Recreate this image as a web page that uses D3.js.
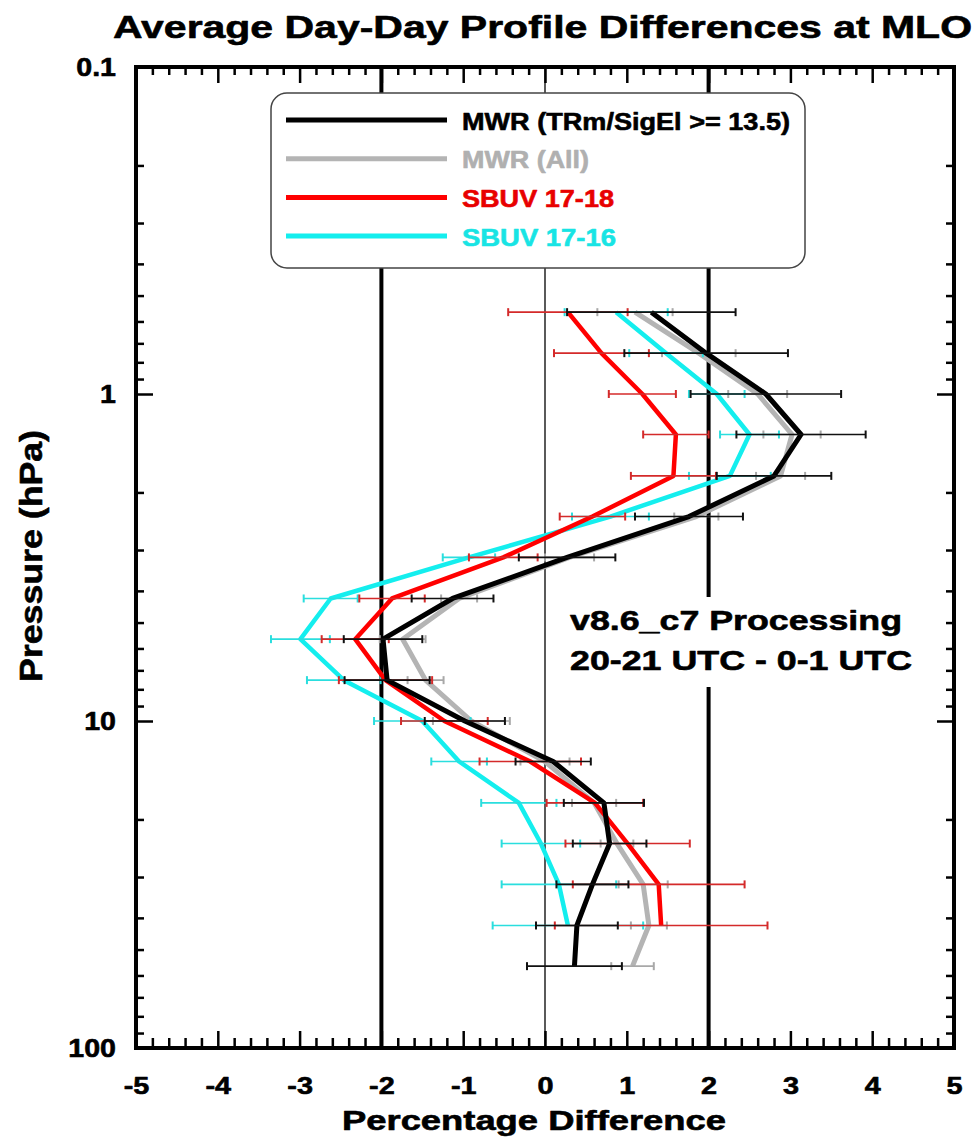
<!DOCTYPE html>
<html>
<head>
<meta charset="utf-8">
<script src="https://cdn.jsdelivr.net/npm/d3@7"></script>
<style>
  body { margin: 0; background: #fff; }
  text { font-family: "Liberation Sans", Arial, sans-serif; font-weight: bold; }
</style>
</head>
<body>
<div id="chart"></div>
<script>
// pressure levels (hPa) of the profile points, top to bottom
const pressure = [0.562, 0.75, 1.0, 1.33, 1.78, 2.37, 3.16, 4.22, 5.62, 7.5, 10, 13.3, 17.8, 23.7, 31.6, 42.2, 56.2];

// MWR (TRm/SigEl >= 13.5)
const mwrSel = [1.30, 1.97, 2.70, 3.13, 2.80, 1.76, 0.27, -1.13, -1.98, -1.93, -0.98, 0.10, 0.72, 0.79, 0.58, 0.39, 0.36];
const mwrSelErr = [1.03, 1.00, 0.92, 0.79, 0.70, 0.66, 0.59, 0.50, 0.48, 0.52, 0.49, 0.46, 0.49, 0.45, 0.44, 0.50, 0.58];
// MWR (All)
const mwrAll = [1.10, 1.88, 2.60, 3.02, 2.88, 1.85, 0.30, -1.05, -1.74, -1.46, -0.90, 0.00, 0.60, 0.88, 1.20, 1.27, 1.07];
const mwrAllErr = [0.46, 0.45, 0.36, 0.35, 0.30, 0.27, 0.30, 0.22, 0.28, 0.22, 0.47, 0.30, 0.27, 0.20, 0.30, 0.22, 0.26];
// SBUV 17-18
const sbuv1718 = [0.28, 0.69, 1.19, 1.60, 1.57, 0.58, -0.51, -1.87, -2.32, -1.95, -1.23, -0.18, 0.61, 1.01, 1.39, 1.42];
const sbuv1718Err = [0.73, 0.58, 0.41, 0.40, 0.52, 0.40, 0.42, 0.40, 0.41, 0.57, 0.53, 0.62, 0.59, 0.76, 1.05, 1.30];
// SBUV 17-16
const sbuv1716 = [0.87, 1.48, 2.10, 2.50, 2.26, 0.80, -0.93, -2.62, -2.99, -2.46, -1.50, -1.05, -0.32, -0.05, 0.17, 0.28];
const sbuv1716Err = [0.63, 0.45, 0.34, 0.36, 0.50, 0.47, 0.32, 0.33, 0.36, 0.45, 0.59, 0.34, 0.46, 0.48, 0.70, 0.92];

const seriesNames = ["MWR (TRm/SigEl >= 13.5)", "MWR (All)", "SBUV 17-18", "SBUV 17-16"];
const xTickLabels = [-5, -4, -3, -2, -1, 0, 1, 2, 3, 4, 5];
const yTickLabels = [0.1, 1, 10, 100];
const refLines = [-2, 0, 2];
const noteLines = ["v8.6_c7 Processing", "20-21 UTC - 0-1 UTC"];

var W = 975, H = 1138;
var pLeft = 136, pRight = 954, pTop = 67, pBottom = 1048;

var svg = d3.select("#chart").append("svg")
  .attr("width", W).attr("height", H);
svg.append("rect").attr("width", W).attr("height", H).attr("fill", "#fff");

var x = d3.scaleLinear().domain([-5, 5]).range([pLeft, pRight]);
var y = d3.scaleLog().domain([0.1, 100]).range([pTop, pBottom]);

// stretch text horizontally, the original lettering is wide
function stretch(sel, f) {
  sel.each(function () {
    var w = this.getComputedTextLength();
    d3.select(this).attr("textLength", w * f).attr("lengthAdjust", "spacingAndGlyphs");
  });
}
// the original lettering is heavier than Liberation bold
function heavy(sel, w) {
  sel.attr("stroke", function () { return d3.select(this).attr("fill") || "#000"; })
    .attr("stroke-width", w).attr("stroke-linejoin", "round");
}

// reference lines at -2, 0, 2
svg.selectAll(".ref").data(refLines).enter().append("line")
  .attr("x1", d => x(d)).attr("x2", d => x(d))
  .attr("y1", pTop).attr("y2", pBottom)
  .attr("stroke", "#000")
  .attr("stroke-width", d => d === 0 ? 1.3 : 4);

// series, drawn bottom to top
var series = [
  { name: seriesNames[1], vals: mwrAll, err: mwrAllErr, color: "#b4b4b4", bar: "#a8a8a8", w: 5 },
  { name: seriesNames[3], vals: sbuv1716, err: sbuv1716Err, color: "#14eeee", bar: "#2adede", w: 4.5 },
  { name: seriesNames[2], vals: sbuv1718, err: sbuv1718Err, color: "#ff0000", bar: "#d42a2a", w: 4.5 },
  { name: seriesNames[0], vals: mwrSel, err: mwrSelErr, color: "#000000", bar: "#111", w: 5 }
];

var line = d3.line().x(d => x(d[0])).y(d => y(d[1]));

series.forEach(function (s) {
  var pts = s.vals.map((v, i) => [v, pressure[i], s.err[i]]);
  var g = svg.append("g");
  g.append("path")
    .attr("d", line(pts))
    .attr("fill", "none")
    .attr("stroke", s.color)
    .attr("stroke-width", s.w)
    .attr("stroke-linejoin", "round");
  var bars = g.selectAll(".eb").data(pts).enter().append("g");
  bars.append("line")
    .attr("x1", d => x(d[0] - d[2])).attr("x2", d => x(d[0] + d[2]))
    .attr("y1", d => y(d[1])).attr("y2", d => y(d[1]))
    .attr("stroke", s.bar).attr("stroke-width", 1.6);
  [-1, 1].forEach(function (k) {
    bars.append("line")
      .attr("x1", d => x(d[0] + k * d[2])).attr("x2", d => x(d[0] + k * d[2]))
      .attr("y1", d => y(d[1]) - 4).attr("y2", d => y(d[1]) + 4)
      .attr("stroke", s.bar).attr("stroke-width", 2);
  });
});

// legend
var legend = svg.append("g");
legend.append("rect")
  .attr("x", 271).attr("y", 93).attr("width", 534).attr("height", 175)
  .attr("rx", 16).attr("ry", 16)
  .attr("fill", "#fff").attr("stroke", "#444").attr("stroke-width", 1.5);
var legendItems = [
  { name: seriesNames[0], color: "#000", text: "#000", len: 328 },
  { name: seriesNames[1], color: "#b4b4b4", text: "#b0b0b0", len: 127 },
  { name: seriesNames[2], color: "#ff0000", text: "#e80000", len: 152 },
  { name: seriesNames[3], color: "#14eeee", text: "#18e4e4", len: 154 }
];
legendItems.forEach(function (d, i) {
  var ly = 120 + i * 38.7;
  legend.append("line")
    .attr("x1", 286).attr("x2", 447).attr("y1", ly).attr("y2", ly)
    .attr("stroke", d.color).attr("stroke-width", 5);
  legend.append("text")
    .attr("class", "lab")
    .attr("x", 462).attr("y", ly + 9.5)
    .attr("font-size", 24)
    .attr("fill", d.text)
    .attr("textLength", d.len).attr("lengthAdjust", "spacingAndGlyphs")
    .text(d.name);
});

// processing note with white background
svg.append("rect")
  .attr("x", 556).attr("y", 597).attr("width", 366).attr("height", 90)
  .attr("fill", "#fff");
svg.selectAll(".note").data(noteLines).enter().append("text")
  .attr("class", "lab")
  .attr("x", 570).attr("y", (d, i) => 630 + i * 40)
  .attr("font-size", 28)
  .attr("fill", "#000")
  .attr("textLength", (d, i) => i === 0 ? 332 : 342)
  .attr("lengthAdjust", "spacingAndGlyphs")
  .text(d => d);

// axes, ticks pointing inward
var xMinor = x.ticks(50).filter(d => Math.abs(d - Math.round(d)) > 1e-6);
var yMinor = y.ticks().filter(d => yTickLabels.indexOf(d) < 0);

function noLabels(a) { return a.tickFormat(""); }

svg.append("g").attr("transform", "translate(0," + pBottom + ")")
  .call(noLabels(d3.axisBottom(x).tickValues(xMinor).tickSize(-10)));
svg.append("g").attr("transform", "translate(0," + pTop + ")")
  .call(noLabels(d3.axisTop(x).tickValues(xMinor).tickSize(-8)));
svg.append("g").attr("transform", "translate(" + pLeft + ",0)")
  .call(noLabels(d3.axisLeft(y).tickValues(yMinor).tickSize(-8)));
svg.append("g").attr("transform", "translate(" + pRight + ",0)")
  .call(noLabels(d3.axisRight(y).tickValues(yMinor).tickSize(-8)));

var xAxis = svg.append("g").attr("transform", "translate(0," + pBottom + ")")
  .call(d3.axisBottom(x).tickValues(xTickLabels).tickSize(-17).tickPadding(29).tickFormat(d => String(d)));
svg.append("g").attr("transform", "translate(0," + pTop + ")")
  .call(noLabels(d3.axisTop(x).tickValues(xTickLabels).tickSize(-16)));
var yAxis = svg.append("g").attr("transform", "translate(" + pLeft + ",0)")
  .call(d3.axisLeft(y).tickValues(yTickLabels).tickSize(-17).tickPadding(20).tickFormat(d => String(d)));
svg.append("g").attr("transform", "translate(" + pRight + ",0)")
  .call(noLabels(d3.axisRight(y).tickValues(yTickLabels).tickSize(-17)));

svg.selectAll(".domain").remove();
svg.selectAll(".tick line").attr("stroke", "#000").attr("stroke-width", 2.5);

xAxis.selectAll("text")
  .attr("font-size", 24).attr("fill", "#000")
  .style("font-family", "Liberation Sans, Arial, sans-serif").style("font-weight", "bold");
yAxis.selectAll("text")
  .attr("font-size", 26).attr("fill", "#000")
  .style("font-family", "Liberation Sans, Arial, sans-serif").style("font-weight", "bold");
stretch(xAxis.selectAll("text"), 1.2);
stretch(yAxis.selectAll("text"), 1.1);
heavy(xAxis.selectAll("text"), 0.6);
heavy(yAxis.selectAll("text"), 0.6);

// frame
svg.append("rect")
  .attr("x", pLeft).attr("y", pTop)
  .attr("width", pRight - pLeft).attr("height", pBottom - pTop)
  .attr("fill", "none").attr("stroke", "#000").attr("stroke-width", 4);

// titles
svg.append("text")
  .attr("class", "lab")
  .attr("x", 113).attr("y", 38)
  .attr("font-size", 32)
  .attr("fill", "#000")
  .attr("textLength", 859).attr("lengthAdjust", "spacingAndGlyphs")
  .text("Average Day-Day Profile Differences at MLO");

svg.append("text")
  .attr("class", "lab")
  .attr("x", 342).attr("y", 1130)
  .attr("font-size", 27)
  .attr("fill", "#000")
  .attr("textLength", 384).attr("lengthAdjust", "spacingAndGlyphs")
  .text("Percentage Difference");

svg.append("text")
  .attr("class", "lab")
  .attr("transform", "translate(42,682) rotate(-90)")
  .attr("font-size", 32)
  .attr("fill", "#000")
  .attr("textLength", 252).attr("lengthAdjust", "spacingAndGlyphs")
  .text("Pressure (hPa)");

heavy(svg.selectAll("text.lab"), 0.6);
</script>
</body>
</html>
